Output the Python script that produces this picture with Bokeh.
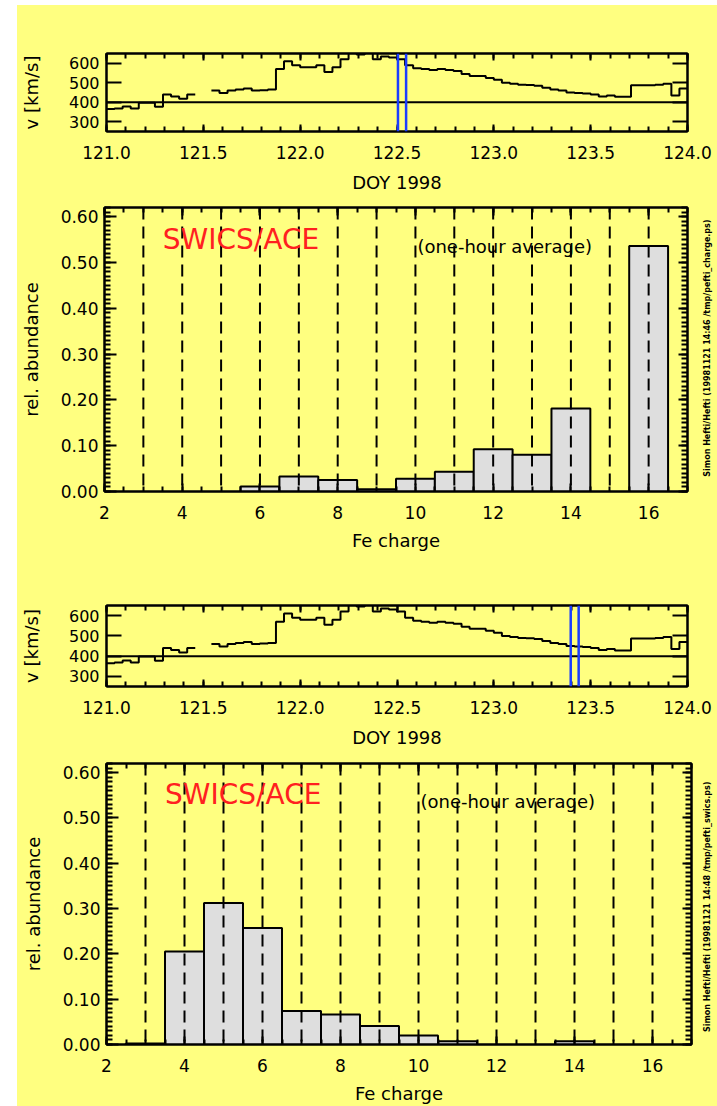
import math
from bokeh.plotting import figure
from bokeh.models import LinearAxis, Range1d, FixedTicker, PrintfTickFormatter, Label, Span
from bokeh.layouts import column, row
from bokeh.core.properties import value
from bokeh.embed import file_html
from bokeh.resources import INLINE

BG = "#ffff80"
FONT = "DejaVu Sans"
NaN = float("nan")

# ---------------- data ----------------
# solar wind speed, one-hour averages starting DOY 121.0 (1998)
vel_start_doy = 121.0
hours_per_day = 24
vel_kms = [365, 368, 378, 368, 398, 398, 377, 440, 430, 418, 440, NaN,
           NaN, 460, 447, 460, 465, 470, 460, 462, 465, 570, 610, 590,
           580, 580, 590, 555, 580, 620, 660, 645, 655, 620, 635, 630,
           620, 590, 575, 570, 565, 570, 565, 560, 545, 535, 535, 525,
           515, 500, 495, 490, 488, 485, 475, 465, 460, 450, 447, 445,
           440, 430, 435, 428, 428, 487, 487, 487, 490, 495, 435, 470]
vel_reference = 400
markers_top = [122.505, 122.547]
markers_bottom = [123.397, 123.438]
vel_xrange = (121.0, 124.0)
vel_yrange = (250, 650)
vel_xticks = [121.0, 121.5, 122.0, 122.5, 123.0, 123.5, 124.0]
vel_xminor = [121.0 + 0.1 * i for i in range(31)]
vel_yticks = [300, 400, 500, 600]

fe_charge = [3, 4, 5, 6, 7, 8, 9, 10, 11, 12, 13, 14, 15, 16]
abund_top = [0.0, 0.0, 0.0, 0.011, 0.033, 0.025, 0.005, 0.028, 0.043,
             0.092, 0.080, 0.181, 0.0, 0.536]
abund_bottom = [0.002, 0.205, 0.312, 0.257, 0.074, 0.066, 0.041, 0.020,
                0.007, 0.0, 0.0, 0.007, 0.0, 0.0]
hist_xrange = (2, 17)
hist_yrange = (0, 0.62)
hist_xticks = [2, 4, 6, 8, 10, 12, 14, 16]
hist_xminor = [2 + 0.5 * i for i in range(31)]
hist_yticks = [0.0, 0.1, 0.2, 0.3, 0.4, 0.5, 0.6]
hist_yminor = [0.01 * i for i in range(63)]

credit_top = "Simon Hefti/Hefti (19981121 14:46 /tmp/pefti_charge.ps)"
credit_bottom = "Simon Hefti/Hefti (19981121 14:48 /tmp/pefti_swics.ps)"


# ---------------- helpers ----------------
def make_axis(ticks, minor, major_len, minor_len, labels=True, fmt=None,
              label="", label_size="18px", label_standoff=10,
              tick_standoff=6, tick_size="17px"):
    ax = LinearAxis(ticker=FixedTicker(ticks=ticks, minor_ticks=minor))
    if fmt:
        ax.formatter = PrintfTickFormatter(format=fmt)
    ax.axis_line_color = "black"
    ax.axis_line_width = 2
    ax.major_tick_in = major_len
    ax.major_tick_out = 0
    ax.major_tick_line_width = 2
    ax.major_tick_line_color = "black"
    ax.minor_tick_in = minor_len
    ax.minor_tick_out = 0
    ax.minor_tick_line_width = 2
    ax.minor_tick_line_color = "black"
    ax.major_label_text_font = FONT
    ax.major_label_text_color = "black"
    ax.major_label_text_font_size = tick_size
    ax.major_label_standoff = tick_standoff
    if not labels:
        ax.major_label_text_font_size = "1px"
        ax.major_label_text_color = None
        ax.major_label_standoff = 0
    if label:
        ax.axis_label = label
        ax.axis_label_text_font = FONT
        ax.axis_label_text_font_style = "normal"
        ax.axis_label_text_font_size = label_size
        ax.axis_label_text_color = "black"
        ax.axis_label_standoff = label_standoff
    return ax


def base_fig(width, height, xr, yr, bl, br, bt, bb):
    p = figure(width=width, height=height, x_range=Range1d(*xr), y_range=Range1d(*yr),
               output_backend="svg", toolbar_location=None,
               x_axis_location=None, y_axis_location=None,
               background_fill_color=BG, border_fill_color=BG,
               min_border_left=bl, min_border_right=br,
               min_border_top=bt, min_border_bottom=bb,
               outline_line_color="black", outline_line_width=2)
    try:
        p.xgrid.grid_line_color = None
        p.ygrid.grid_line_color = None
    except Exception:
        pass
    return p


def vel_fig(height, bl, br, bt, bb, markers):
    p = base_fig(700, height, vel_xrange, vel_yrange, bl, br, bt, bb)
    p.add_layout(make_axis(vel_xticks, vel_xminor, 7, 5, fmt="%.1f",
                           label="DOY 1998", tick_standoff=14, label_standoff=10), "below")
    p.add_layout(make_axis(vel_xticks, vel_xminor, 7, 5, labels=False), "above")
    p.add_layout(make_axis(vel_yticks, [], 15, 0, label="v [km/s]", tick_size="16px",
                           tick_standoff=7, label_standoff=24), "left")
    p.add_layout(make_axis(vel_yticks, [], 15, 0, labels=False), "right")
    # step line with data gaps
    n = len(vel_kms)
    t = [vel_start_doy + h / hours_per_day for h in range(n + 1)]
    xs, ys = [], []
    for h in range(n):
        v = vel_kms[h]
        if math.isnan(v):
            if xs:
                xs.append(t[h]); ys.append(ys[-1])
                p.step(xs, ys, mode="after", line_color="black", line_width=2)
                xs, ys = [], []
        else:
            xs.append(t[h]); ys.append(v)
    if xs:
        xs.append(t[n]); ys.append(ys[-1])
        p.step(xs, ys, mode="after", line_color="black", line_width=2)
    p.add_layout(Span(location=vel_reference, dimension="width",
                      line_color="black", line_width=2))
    for m in markers:
        p.add_layout(Span(location=m, dimension="height",
                          line_color="#1a3cff", line_width=2.5))
    return p


def hist_fig(width, height, bl, br, bt, bb, values):
    p = base_fig(width, height, hist_xrange, hist_yrange, bl, br, bt, bb)
    p.add_layout(make_axis(hist_xticks, hist_xminor, 8, 5, label="Fe charge",
                           tick_standoff=14, label_standoff=8), "below")
    p.add_layout(make_axis(hist_xticks, hist_xminor, 8, 5, labels=False), "above")
    p.add_layout(make_axis(hist_yticks, hist_yminor, 12, 6, fmt="%.2f",
                           label="rel. abundance", tick_standoff=6,
                           label_standoff=16), "left")
    p.add_layout(make_axis(hist_yticks, hist_yminor, 9, 6, labels=False), "right")
    xs = [c for c, v in zip(fe_charge, values) if v > 0]
    vs = [v for v in values if v > 0]
    p.vbar(x=xs, top=vs, bottom=0, width=1.0, fill_color="#dedede",
           line_color="black", line_width=2)
    for c in fe_charge:
        p.add_layout(Span(location=c, dimension="height", line_color="black",
                          line_width=2, line_dash="12 7"))
    p.add_layout(Label(x=3.5, y=0.515, text="SWICS/ACE", text_color="#ff2020",
                       text_font=FONT, text_font_size="28px"))
    p.add_layout(Label(x=10.05, y=0.512, text="(one-hour average)", text_color="black",
                       text_font=FONT, text_font_size="18px"))
    return p


def credit_fig(height, credit, ypos):
    c = figure(width=20, height=height, x_range=Range1d(0, 1), y_range=Range1d(0, 1),
               output_backend="svg", toolbar_location=None,
               x_axis_location=None, y_axis_location=None,
               background_fill_color=BG, border_fill_color=BG,
               min_border_left=0, min_border_right=0,
               min_border_top=0, min_border_bottom=0,
               outline_line_color=None)
    try:
        c.xgrid.grid_line_color = None
        c.ygrid.grid_line_color = None
    except Exception:
        pass
    c.text(x=[0.5], y=[ypos], text=[credit], angle=math.pi / 2,
           text_align="center", text_baseline="middle",
           text_font=value(FONT), text_font_size=value("8px"),
           text_font_style="bold", text_color="black")
    return c


pA = vel_fig(190, 86, 30, 48, 59, markers_top)
pB = hist_fig(680, 360, 86, 10, 12, 64, abund_top)
cB = credit_fig(360, credit_top, 0.505)
pC = vel_fig(195, 89, 27, 50, 60, markers_bottom)
pD = hist_fig(680, 356, 89, 6, 13, 60, abund_bottom)
cD = credit_fig(356, credit_bottom, 0.49)

layout = column(pA, row(pB, cB, spacing=0), pC, row(pD, cD, spacing=0),
                spacing=0, margin=(5, 0, 0, 17),
                styles={"background-color": BG})
open("out.html", "w").write(file_html(layout, INLINE))
